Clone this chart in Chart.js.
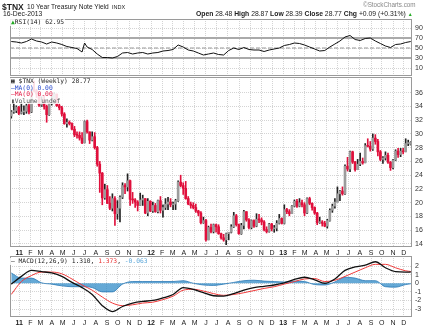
<!DOCTYPE html>
<html>
<head>
<meta charset="utf-8">
<script src="https://cdn.jsdelivr.net/npm/chart.js@4.4.0/dist/chart.umd.min.js"></script>
<style>
  body { margin:0; background:#fff; }
  #wrap { position:relative; width:432px; height:327px; overflow:hidden; font-family:"Liberation Sans", Arial, sans-serif; color:#222; }
  canvas { position:absolute; left:0; top:0; }
  .t { position:absolute; white-space:nowrap; line-height:1; }
  .mono { font-family:"DejaVu Sans Mono", monospace; font-size:6.3px; }
  .leg { position:absolute; background:rgba(255,255,255,0.85); line-height:6.6px; padding:0 1px; }
</style>
</head>
<body>
<div id="wrap">
  <canvas id="rsi" width="432" height="327"></canvas>
  <canvas id="price" width="432" height="327"></canvas>
  <canvas id="macd" width="432" height="327"></canvas>

  <div class="t" style="left:2px;top:2.5px;font-size:8.5px;font-weight:bold;">$TNX</div>
  <div class="t" style="left:27px;top:3.5px;font-size:6.6px;">10 Year Treasury Note Yield</div>
  <div class="t" style="left:112px;top:4.5px;font-size:5.5px;">INDX</div>
  <div class="t" style="left:363px;top:1.5px;font-size:6.3px;color:#888;">&copy;StockCharts.com</div>
  <div class="t" style="left:3px;top:11px;font-size:6.8px;">16-Dec-2013</div>
  <div class="t" style="left:196px;top:11px;font-size:6.8px;"><b>Open</b> 28.48 <b>High</b> 28.87 <b>Low</b> 28.39 <b>Close</b> 28.77 <b>Chg</b> +0.09 (+0.31%) <span style="color:#2a2;font-size:5px;">&#9650;</span></div>

  <div class="leg mono" style="left:10px;top:19px;"><span style="color:#2a2;">&#9650;</span>RSI(14) 62.95</div>

  <div class="leg mono" style="left:10px;top:78px;">
    <div><b>&#9638;</b> $TNX (Weekly) 28.77</div>
    <div style="color:#2244cc;">&#8212;MA(0) 0.00</div>
    <div style="color:#e0103c;">&#8212;MA(0) 0.00</div>
    <div style="color:#555;">&#9646;Volume undef</div>
  </div>

  <div class="leg mono" style="left:10px;top:258px;">&#8212; MACD(12,26,9) 1.310, <span style="color:#e83030;">1.373</span>, <span style="color:#5aa6d8;">-0.063</span></div>
</div>

<script>
// weekly bars, first bar = week ending 10-Dec-2010
const startDate = Date.UTC(2010, 11, 10)
const WEEK = 7 * 864e5
const monthLetters = ['J','F','M','A','M','J','J','A','S','O','N','D']
const years = [2011, 2012, 2013]

const opens = [32.6,33.2,33.4,33.9,33.0,33.2,33.3,34.1,33.2,36.4,
36.3,35.8,34.2,34.9,34.0,32.8,34.4,34.5,35.8,34.1,
33.8,32.9,31.5,31.7,31.5,30.7,29.9,29.8,29.4,28.7,
31.8,30.3,29.1,29.6,28.0,25.6,24.3,20.7,21.9,19.9,
19.2,20.6,18.4,19.2,20.8,22.5,22.3,23.2,20.5,20.4,
20.1,19.6,20.4,20.6,18.5,20.2,18.8,19.6,18.7,20.3,
18.9,19.3,19.8,20.1,19.7,19.8,20.3,23.0,22.5,22.1,
20.6,19.8,19.6,19.3,18.8,18.5,17.1,17.4,14.6,16.4,
15.8,16.8,16.5,15.5,14.9,14.6,15.5,15.7,16.5,18.1,
16.8,15.5,16.7,18.7,17.5,16.4,17.4,16.6,17.6,17.5,
17.2,16.1,15.8,16.9,16.2,16.3,17.0,17.7,17.0,19.0,
18.7,18.4,19.5,20.2,19.5,20.0,19.7,18.5,20.6,19.9,
19.3,18.5,17.1,17.2,17.0,16.6,17.4,18.9,19.5,20.1,
21.3,21.7,21.3,25.3,24.9,27.4,25.9,24.8,25.6,26.0,
25.8,28.3,28.2,27.8,29.4,28.9,27.4,26.3,26.5,26.9,
25.9,25.1,26.2,27.5,27.0,27.5,27.4,28.6,28.48]

const highs = [33.4,34.6,34.1,34.0,34.6,34.1,34.4,34.6,36.5,37.7,
36.5,35.9,35.4,35.6,34.2,34.5,35.6,36.0,35.8,34.4,
34.0,33.1,32.2,31.9,31.6,31.1,30.3,30.3,30.2,31.9,
32.0,30.3,30.3,30.2,28.2,26.0,24.4,22.7,22.5,20.9,
21.3,20.9,20.3,21.0,22.9,22.8,24.2,23.3,21.5,20.6,
20.3,21.4,21.1,20.6,20.6,20.3,20.1,19.9,20.4,20.9,
19.7,20.6,20.8,20.6,20.1,20.5,23.2,24.0,22.9,23.1,
20.9,20.1,20.0,19.8,18.9,18.7,17.9,17.6,16.6,16.9,
16.9,16.9,16.8,15.6,15.4,15.6,15.6,16.8,18.6,18.3,
16.9,17.0,18.9,18.7,17.7,17.5,17.5,18.4,18.3,17.8,
17.4,16.5,17.0,17.0,16.7,17.4,18.3,17.8,19.7,19.2,
19.0,19.6,20.4,20.5,20.6,20.4,20.0,20.7,20.8,20.0,
19.4,18.6,17.9,17.4,17.3,17.6,19.1,19.8,20.6,22.3,
21.8,22.3,25.5,26.6,27.5,27.5,26.0,26.3,27.2,26.5,
28.6,29.3,28.9,30.0,29.9,29.2,27.6,26.7,27.4,27.2,
26.0,26.3,27.7,27.9,27.9,27.9,29.3,29.1,28.87]

const lows = [32.3,33.0,33.1,32.8,32.9,32.8,33.0,32.9,33.1,36.1,
35.3,34.0,34.0,33.6,31.7,32.7,34.2,34.4,34.0,33.5,
32.6,31.4,31.0,31.3,30.6,29.6,29.4,29.1,28.6,28.7,
30.1,28.6,29.0,27.8,25.3,21.5,19.7,20.5,19.9,19.0,
18.8,16.7,17.6,17.2,20.6,21.3,21.7,19.6,19.9,19.3,
18.8,19.6,19.6,18.4,18.1,18.7,18.6,18.6,18.5,18.5,
17.9,19.0,19.0,19.4,19.0,19.0,20.2,22.3,21.2,20.5,
19.7,19.2,19.1,18.6,18.1,16.9,17.0,14.4,14.6,15.6,
15.6,15.7,15.4,14.7,14.4,13.9,14.6,15.6,16.4,16.6,
15.4,15.4,16.2,17.3,16.2,16.2,16.4,16.5,17.1,16.8,
15.9,15.6,15.7,15.9,15.7,15.9,16.9,16.9,16.9,18.4,
18.1,18.4,19.4,19.3,19.4,19.4,18.1,18.4,19.7,18.9,
18.3,16.8,17.0,16.6,16.5,16.3,17.3,18.6,19.2,20.1,
20.3,21.1,21.2,24.6,24.5,25.7,24.6,24.8,25.4,25.6,
25.8,28.1,27.5,27.6,28.5,26.8,26.1,25.7,26.2,25.7,
24.7,24.9,26.1,26.6,26.7,27.1,27.4,28.3,28.39]

const closes = [33.2,33.4,33.9,33.0,33.2,33.3,34.1,33.2,36.4,36.3,
35.8,34.2,34.9,34.0,32.8,34.4,34.5,35.8,34.1,33.8,
32.9,31.5,31.7,31.5,30.7,29.9,29.8,29.4,28.7,31.8,
30.3,29.1,29.6,28.0,25.6,24.3,20.7,21.9,19.9,19.2,
20.6,18.4,19.2,20.8,22.5,22.3,23.2,20.5,20.4,20.1,
19.6,20.4,20.6,18.5,20.2,18.8,19.6,18.7,20.3,18.9,
19.3,19.8,20.1,19.7,19.8,20.3,23.0,22.5,22.1,20.6,
19.8,19.6,19.3,18.8,18.5,17.1,17.4,14.6,16.4,15.8,
16.8,16.5,15.5,14.9,14.6,15.5,15.7,16.5,18.1,16.8,
15.5,16.7,18.7,17.5,16.4,17.4,16.6,17.6,17.5,17.2,
16.1,15.8,16.9,16.2,16.3,17.0,17.7,17.0,19.0,18.7,
18.4,19.5,20.2,19.5,20.0,19.7,18.5,20.6,19.9,19.3,
18.5,17.1,17.2,17.0,16.6,17.4,18.9,19.5,20.1,21.3,
21.7,21.3,25.3,24.9,27.4,25.9,24.8,25.6,26.0,25.8,
28.3,28.2,27.8,29.4,28.9,27.4,26.3,26.5,26.9,25.9,
25.1,26.2,27.5,27.0,27.5,27.4,28.6,28.68,28.77]

// RSI(14), read every couple of weeks
const rsiWeeks = [0,2,4,6,8,10,12,14,16,18,20,22,24,26,28,29,30,32,34,36,38,40,42,44,46,48,50,52,54,56,58,
  60,62,64,66,68,70,72,74,76,78,80,82,84,86,88,90,92,94,96,98,100,102,104,106,108,110,112,114,116,118,
  120,122,124,126,128,130,132,134,136,138,140,142,144,146,148,150,152,154,156,158]
const rsiValues = [63,62,60,63,68,64,62,58,62,60,57,53,51,49,42,60,52,47,38,31,31,30,33,40,41,38,40,41,38,40,41,
  44,45,47,56,52,46,44,40,36,38,40,37,36,45,50,47,51,47,46,46,43,46,48,50,55,57,60,59,56,52,
  48,44,45,52,58,64,72,75,67,65,69,70,64,59,54,51,57,58,61,62.95]
const rsiLevels = [70, 50, 30]

// MACD(12,26,9), read every 4 weeks
const macdWeeks = [0,4,8,12,16,20,24,28,32,36,40,44,48,52,56,60,64,68,72,76,80,84,88,92,96,100,
  104,108,112,116,120,124,128,132,136,140,144,148,152,156,158]
const macdLine = [-0.1,0.8,1.5,1.35,1.2,0.8,0.1,-0.5,-1.3,-2.6,-3.3,-2.7,-2.3,-2.1,-2.0,-1.7,-1.3,-0.5,-0.7,-1.1,
  -1.45,-1.5,-1.2,-0.8,-0.5,-0.35,-0.2,0.05,0.45,0.7,0.4,0.0,0.5,1.5,1.9,2.1,2.5,1.8,1.35,1.3,1.31]
const signalLine = [-1.3,0.2,0.9,1.3,1.3,1.1,0.5,-0.2,-0.8,-1.6,-2.3,-2.6,-2.5,-2.3,-2.2,-1.9,-1.5,-0.8,-0.7,-0.9,
  -1.2,-1.4,-1.3,-1.1,-0.85,-0.6,-0.4,-0.1,0.2,0.5,0.55,0.2,0.35,0.8,1.3,1.8,2.2,2.2,1.8,1.45,1.37]
const histValues = [1.2,0.6,0.6,0.05,-0.1,-0.3,-0.4,-0.4,-0.5,-1.0,-1.0,-0.1,0.2,0.2,0.2,0.2,0.2,0.3,0.0,-0.2,
  -0.25,-0.1,0.1,0.3,0.35,0.25,0.2,0.15,0.25,0.2,-0.15,-0.2,0.15,0.7,0.6,0.3,0.3,-0.4,-0.45,-0.15,-0.06]

const priceTicks = [14,16,18,20,22,24,26,28,30,32,34,36]
const rsiTicks = [10,30,50,70,90]
const macdTicks = [-3,-2,-1,0,1,2]

// month gridlines / labels
const monthTicks = []
const monthLabels = []
years.forEach(function(y){
    for (let m = 0; m < 12; m++){
        const pos = (Date.UTC(y, m, 1) - startDate) / WEEK
        if (pos > -0.5 && pos < closes.length - 0.5){
            monthTicks.push(pos)
            monthLabels.push(m == 0 ? String(y).slice(2) : monthLetters[m])
        }
    }
})

const RED = '#e0103c'
const GRID = '#d4d4d4'

const frame = {
    id: 'frame',
    afterDraw(chart){
        const a = chart.chartArea
        const c = chart.ctx
        c.save()
        c.strokeStyle = '#9a9a9a'
        c.lineWidth = 1
        c.strokeRect(Math.round(a.left) + 0.5, Math.round(a.top) + 0.5, Math.round(a.width) - 1, Math.round(a.height) - 1)
        c.restore()
    }
}

function xScale(showLabels, h){
    return {
        type: 'linear', min: -0.5, max: closes.length - 0.5, offset: false,
        afterBuildTicks: s => { s.ticks = monthTicks.map(v => ({value: v})) },
        afterFit: s => { s.height = h },
        grid: {color: GRID, drawTicks: false, offset: false},
        border: {display: false, dash: [1, 1]},
        ticks: {
            display: showLabels, autoSkip: false, maxRotation: 0, padding: 2, color: '#222',
            font: c => ({family: 'Liberation Sans', size: 7, weight: /^\d/.test(monthLabels[c.index]) ? 'bold' : 'normal'}),
            callback: (v, i) => monthLabels[i]
        }
    }
}

function yScale(min, max, tickVals){
    return {
        position: 'right', min: min, max: max,
        afterBuildTicks: s => { s.ticks = tickVals.map(v => ({value: v})) },
        afterFit: s => { s.width = 20 },
        grid: {color: GRID, drawTicks: false},
        border: {display: false, dash: [1, 1]},
        ticks: {padding: 3, color: '#333', font: {family: 'Liberation Sans', size: 7}, callback: v => v}
    }
}

function baseOptions(top, bottom, xs, ys){
    return {
        responsive: false,
        animation: false,
        layout: {padding: {left: 10, right: 0, top: top, bottom: bottom}},
        plugins: {legend: {display: false}, tooltip: {enabled: false}},
        scales: {x: xs, y: ys}
    }
}

// RSI panel
new Chart(document.getElementById('rsi'), {
    type: 'line',
    data: {
        datasets: [{
            data: rsiWeeks.map((w, i) => ({x: w, y: rsiValues[i]})),
            borderColor: '#111', borderWidth: 1, pointRadius: 0, tension: 0
        }].concat(rsiLevels.map(l => ({
            data: [{x: -0.5, y: l}, {x: closes.length - 0.5, y: l}],
            borderColor: l == 50 ? '#999' : '#aaa',
            borderWidth: l == 50 ? 1 : 2,
            borderDash: l == 50 ? [4, 2] : [],
            pointRadius: 0
        })))
    },
    options: baseOptions(19, 251, xScale(false, 0), yScale(-6, 108, rsiTicks)),
    plugins: [frame]
})

// price panel, candles as floating bars
const upWeek = closes.map((c, i) => c >= opens[i])
new Chart(document.getElementById('price'), {
    type: 'bar',
    data: {
        datasets: [{
            data: closes.map((c, i) => ({x: i, y: [Math.min(opens[i], c), Math.max(opens[i], c)]})),
            backgroundColor: upWeek.map(u => u ? '#9c9c9c' : RED),
            borderColor: upWeek.map(u => u ? '#222' : RED),
            borderWidth: 0, barThickness: 2, minBarLength: 1, grouped: false
        }, {
            data: highs.map((h, i) => ({x: i, y: [lows[i], h]})),
            backgroundColor: upWeek.map(u => u ? '#222' : RED),
            barThickness: 1, grouped: false
        }]
    },
    options: baseOptions(77, 71, xScale(true, 9), yScale(13.56, 38.28, priceTicks)),
    plugins: [frame]
})

// MACD panel
new Chart(document.getElementById('macd'), {
    type: 'line',
    data: {
        datasets: [{
            data: macdWeeks.map((w, i) => ({x: w, y: macdLine[i]})),
            borderColor: '#111', borderWidth: 1.3, pointRadius: 0, cubicInterpolationMode: 'monotone'
        }, {
            data: macdWeeks.map((w, i) => ({x: w, y: signalLine[i]})),
            borderColor: '#f03a3a', borderWidth: 1, pointRadius: 0, cubicInterpolationMode: 'monotone'
        }, {
            data: macdWeeks.map((w, i) => ({x: w, y: histValues[i]})),
            borderColor: '#2b78b5', borderWidth: 0.8, backgroundColor: 'rgba(50,140,200,0.75)',
            fill: 'origin', pointRadius: 0, cubicInterpolationMode: 'monotone'
        }]
    },
    options: baseOptions(256, 1, xScale(true, 9), yScale(-3.92, 3.17, macdTicks)),
    plugins: [frame]
})
</script>
</body>
</html>
